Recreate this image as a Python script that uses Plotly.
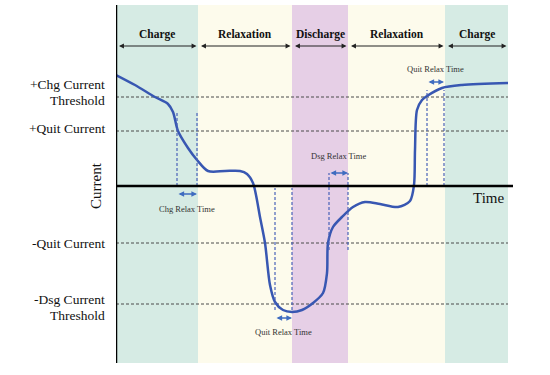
import plotly.graph_objects as go

# ---- data (time units / current units) ----
curve_t = [0, 19, 39, 52, 57, 62, 72, 81, 92, 109, 124, 131, 137, 140, 144, 149, 154, 159,
           167, 176, 186, 197, 207, 211, 212, 217, 226, 237, 249, 264, 282, 294, 298, 299,
           301, 306, 311, 326, 346, 392]
curve_i = [111, 101, 89, 82, 74, 55, 38, 26, 15, 15, 15, 12, 3, -9, -31, -57, -99, -116,
           -124, -126, -124, -117, -107, -87, -57, -41, -31, -21, -16, -18, -21, -15, 1, 36,
           76, 86, 90, 98, 101, 103]

phase_names = ["Charge", "Relaxation", "Discharge", "Relaxation", "Charge"]
phase_edges = [0, 82, 176, 232, 329, 392]
phase_colors = ["#d6ebe4", "#fdfbec", "#e6cfe6", "#fdfbec", "#d6ebe4"]

level_labels = [["+Chg Current", "Threshold"], ["+Quit Current"], ["-Quit Current"],
                ["-Dsg Current", "Threshold"]]
level_values = [89, 55, -57, -118]
level_label_centres = [94, 58, -57, -121]

relax_labels = ["Chg Relax Time", "Quit Relax Time", "Dsg Relax Time", "Quit Relax Time"]
relax_start = [61, 159, 213, 311]
relax_end = [81, 176, 232, 328]
relax_line_top = [73, -2, 13, 96]
relax_line_bottom = [0, -124, -64, 0]
relax_arrow_i = [-8, -132, 13, 104]
relax_label_i = [-23, -146, 30, 117]

X_RANGE = [0, 397]
Y_RANGE = [-177, 181]
HEADER_LABEL_I = 152
HEADER_ARROW_I = 140

SERIF = "Liberation Serif, Times New Roman, serif"
BLUE = "#3857b2"

fig = go.Figure()

shapes = []
for i, name in enumerate(phase_names):
    shapes.append(dict(type="rect", xref="x", yref="y", x0=phase_edges[i], x1=phase_edges[i + 1],
                       y0=Y_RANGE[0], y1=Y_RANGE[1], fillcolor=phase_colors[i],
                       line=dict(width=0), layer="below"))
for v in level_values:
    shapes.append(dict(type="line", xref="x", yref="y", x0=0, x1=phase_edges[-1], y0=v, y1=v,
                       line=dict(color="#4a4a4a", width=1, dash="3px,2px"), layer="below"))
for k in range(len(relax_labels)):
    for xv in (relax_start[k], relax_end[k]):
        shapes.append(dict(type="line", xref="x", yref="y", x0=xv, x1=xv,
                           y0=relax_line_bottom[k], y1=relax_line_top[k],
                           line=dict(color="#4a62b8", width=1.2, dash="3px,2px")))
shapes.append(dict(type="line", xref="x", yref="y", x0=0, x1=X_RANGE[1], y0=0, y1=0,
                   line=dict(color="black", width=2.5)))
shapes.append(dict(type="line", xref="x", yref="y", x0=0, x1=0, y0=Y_RANGE[0], y1=Y_RANGE[1],
                   line=dict(color="black", width=2.5)))

fig.add_trace(go.Scatter(x=curve_t, y=curve_i, mode="lines",
                         line=dict(color=BLUE, width=2.5, shape="spline", smoothing=0.8),
                         hoverinfo="skip", showlegend=False))

annotations = []
for i, name in enumerate(phase_names):
    mid = (phase_edges[i] + phase_edges[i + 1]) / 2
    annotations.append(dict(x=mid, y=HEADER_LABEL_I, xref="x", yref="y", text="<b>%s</b>" % name,
                            showarrow=False, font=dict(family=SERIF, size=11.5, color="#111111")))
    annotations.append(dict(x=phase_edges[i + 1] - 1.5, y=HEADER_ARROW_I, ax=phase_edges[i] + 1.5,
                            ay=HEADER_ARROW_I, xref="x", yref="y", axref="x", ayref="y", text="",
                            showarrow=True, arrowhead=2, arrowside="end+start", arrowsize=0.9,
                            arrowwidth=1.1, arrowcolor="#222222"))
for lines, c in zip(level_labels, level_label_centres):
    n = len(lines)
    for j, line in enumerate(lines):
        annotations.append(dict(x=0, y=c, xref="paper", yref="y", xanchor="right", xshift=-9,
                                yshift=(n - 1) * 8 - j * 16, text=line, showarrow=False,
                                font=dict(family=SERIF, size=13.5, color="#111111")))
for k in range(len(relax_labels)):
    annotations.append(dict(x=relax_end[k], y=relax_arrow_i[k], ax=relax_start[k], ay=relax_arrow_i[k],
                            xref="x", yref="y", axref="x", ayref="y", text="", showarrow=True,
                            arrowhead=2, arrowside="end+start", arrowsize=0.7, arrowwidth=1.6,
                            arrowcolor="#3f6cc0"))
    annotations.append(dict(x=(relax_start[k] + relax_end[k]) / 2, y=relax_label_i[k], xref="x", yref="y",
                            text=relax_labels[k], showarrow=False,
                            font=dict(family=SERIF, size=8.5, color="#333333")))
annotations.append(dict(x=0, y=0, xref="paper", yref="y", xshift=-30, text="Current", textangle=-90,
                        showarrow=False, font=dict(family=SERIF, size=15, color="#111111")))
annotations.append(dict(x=372, y=-12, xref="x", yref="y", text="Time", showarrow=False,
                        font=dict(family=SERIF, size=15, color="#111111")))

fig.update_layout(
    width=550, height=375,
    margin=dict(l=116, r=37, t=5, b=12),
    paper_bgcolor="white", plot_bgcolor="white",
    xaxis=dict(range=X_RANGE, showgrid=False, zeroline=False, showticklabels=False, ticks="",
               showline=False, fixedrange=True),
    yaxis=dict(range=Y_RANGE, showgrid=False, zeroline=False, showticklabels=False, ticks="",
               showline=False, fixedrange=True),
    shapes=shapes, annotations=annotations, showlegend=False,
)

fig.write_html("out.html", config={"displayModeBar": False},
               post_script="document.body.style.margin='0';")
